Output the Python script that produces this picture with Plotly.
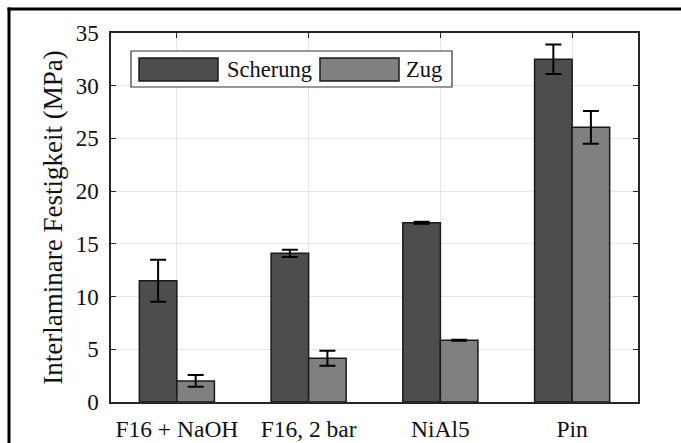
import plotly.graph_objects as go

categories = ["F16 + NaOH", "F16, 2 bar", "NiAl5", "Pin"]
series_names = ["Scherung", "Zug"]
scherung = [11.5, 14.1, 17.0, 32.5]
scherung_err = [2.0, 0.35, 0.1, 1.4]
zug = [2.0, 4.15, 5.85, 26.05]
zug_err = [0.55, 0.7, 0.05, 1.55]
y_ticks = [0, 5, 10, 15, 20, 25, 30, 35]

colors = ["#4d4d4d", "#808080"]
W, H = 681, 443
ML, MR, MT, MB = 111, 43, 33, 41
PW, PH = W - ML - MR, H - MT - MB
FONT = "Liberation Serif"

def px(x):
    return (x - ML) / PW

def py(y):
    return (H - MB - y) / PH

fig = go.Figure()
for name, vals, errs, col in [(series_names[0], scherung, scherung_err, colors[0]),
                              (series_names[1], zug, zug_err, colors[1])]:
    fig.add_trace(go.Bar(
        x=categories, y=vals, name=name,
        marker=dict(color=col, line=dict(color="#1a1a1a", width=1.5)),
        error_y=dict(type="data", array=errs, visible=True,
                     color="#000000", thickness=2, width=8),
        showlegend=False,
    ))

shapes = []
annotations = []
# outer figure frame (left and top edges; the rest lies outside the view)
shapes.append(dict(type="line", xref="paper", yref="paper",
                   x0=px(9), x1=px(9), y0=py(443), y1=py(7.5),
                   line=dict(color="#000000", width=3), layer="above"))
shapes.append(dict(type="line", xref="paper", yref="paper",
                   x0=px(7.5), x1=px(681), y0=py(9), y1=py(9),
                   line=dict(color="#000000", width=3), layer="above"))
# legend box
shapes.append(dict(type="rect", xref="paper", yref="paper",
                   x0=px(131), x1=px(452), y0=py(87), y1=py(51),
                   line=dict(color="#333333", width=1.2), fillcolor="white", layer="above"))
sw = [(139, 218, 225), (320, 399, 404)]
for (x0, x1, tx), name, col in zip(sw, series_names, colors):
    shapes.append(dict(type="rect", xref="paper", yref="paper",
                       x0=px(x0), x1=px(x1), y0=py(81), y1=py(58),
                       line=dict(color="#1a1a1a", width=1.5), fillcolor=col, layer="above"))
    annotations.append(dict(xref="paper", yref="paper", x=px(tx), y=py(69.5),
                            text=name, showarrow=False, xanchor="left", yanchor="middle",
                            font=dict(family=FONT, size=22.5, color="#111111")))

fig.update_layout(
    width=W, height=H,
    margin=dict(l=ML, r=MR, t=MT, b=MB, autoexpand=False),
    paper_bgcolor="white", plot_bgcolor="white",
    barmode="group", bargap=0.43, bargroupgap=0.0,
    font=dict(family=FONT, size=23, color="#111111"),
    shapes=shapes, annotations=annotations,
)
fig.update_xaxes(
    type="category", range=[-0.5, 3.5], categoryorder="array", categoryarray=categories,
    showline=True, linecolor="#262626", linewidth=1.5, mirror="ticks",
    ticks="inside", ticklen=5, tickwidth=1.2, tickcolor="#262626",
    showgrid=True, gridcolor="#e6e6e6", gridwidth=1, zeroline=False,
    ticklabelstandoff=5, tickfont=dict(family=FONT, size=23.5, color="#111111"),
)
fig.update_yaxes(
    range=[0, 35], tickvals=y_ticks,
    showline=True, linecolor="#262626", linewidth=1.5, mirror="ticks",
    ticks="inside", ticklen=5, tickwidth=1.2, tickcolor="#262626",
    showgrid=True, gridcolor="#e6e6e6", gridwidth=1, zeroline=False,
    ticklabelstandoff=6, tickfont=dict(family=FONT, size=23, color="#111111"),
    title=dict(text="Interlaminare Festigkeit (MPa)",
               font=dict(family=FONT, size=27, color="#111111"), standoff=5),
)
fig.write_html(
    "out.html",
    config={"displayModeBar": False},
    post_script=("var s=document.createElement('style');"
                 "s.textContent='html,body{margin:0!important;padding:0;overflow:hidden!important;"
                 "scrollbar-width:none;}::-webkit-scrollbar{display:none;width:0;height:0;}';"
                 "document.head.appendChild(s);"
                 "document.body.style.margin='0';"),
)
